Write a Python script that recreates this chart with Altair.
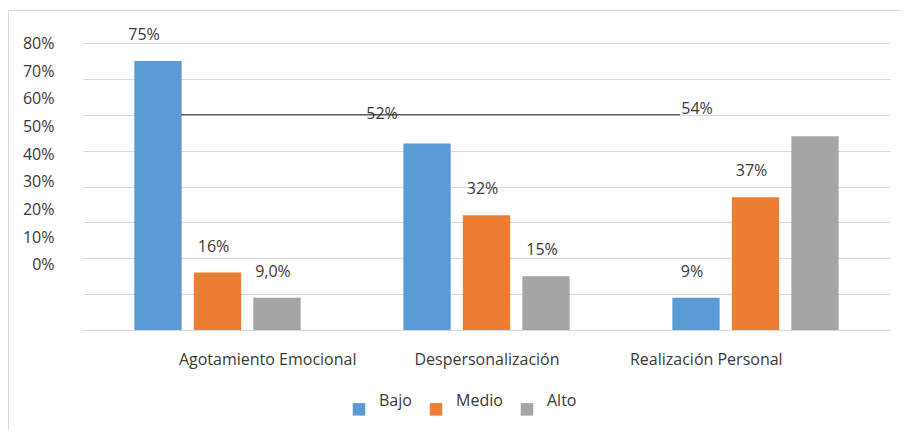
import altair as alt
import pandas as pd

# ---- data ----
categories = ["Agotamiento Emocional", "Despersonalización", "Realización Personal"]
series = ["Bajo", "Medio", "Alto"]
bajo = [75, 52, 9]
medio = [16, 32, 37]
alto = [9, 15, 54]
bajo_labels = ["75%", "52%", "9%"]
medio_labels = ["16%", "32%", "37%"]
alto_labels = ["9,0%", "15%", "54%"]
y_ticks = [0, 10, 20, 30, 40, 50, 60, 70, 80]
colors = ["#5B9BD5", "#ED7D31", "#A5A5A5"]
# black annotation line (value level, extent in category units)
line_y = [60]
line_start = [0.365]
line_end = [2.22]

rows = []
for s, vals, labs in zip(series, [bajo, medio, alto], [bajo_labels, medio_labels, alto_labels]):
    for c, v, l in zip(categories, vals, labs):
        rows.append({"cat": c, "serie": s, "valor": v, "etiqueta": l})
df = pd.DataFrame(rows)

W, H = 807, 287
FONT = "Open Sans"
TXT = "#3a3a3a"
FS = 16

x_enc = alt.X("cat:N", sort=categories,
              scale=alt.Scale(paddingInner=0, paddingOuter=0), axis=None)
xo_enc = alt.XOffset("serie:N", sort=series,
                     scale=alt.Scale(paddingInner=0.205, paddingOuter=0.863))
y_enc = alt.Y("valor:Q", scale=alt.Scale(domain=[0, 80], nice=False, zero=True),
              axis=alt.Axis(orient="right", values=y_ticks, grid=True, labels=False,
                            ticks=False, domain=False, title=None,
                            gridColor="#D9D9D9", gridWidth=1))

bars = alt.Chart(df).mark_bar().encode(
    x=x_enc, xOffset=xo_enc, y=y_enc,
    color=alt.Color("serie:N", sort=series,
                    scale=alt.Scale(domain=series, range=colors),
                    legend=alt.Legend(orient="none", legendX=268, legendY=358,
                                      direction="horizontal", title=None,
                                      symbolType="square", symbolSize=156,
                                      symbolStrokeWidth=0, labelOffset=12,
                                      columnPadding=16, labelBaseline="bottom",
                                      padding=0, labelFont=FONT, labelFontSize=FS,
                                      labelColor=TXT)),
)

def lbl(dx, dy):
    return alt.Chart(df).mark_text(font=FONT, fontSize=FS, color=TXT,
                                   baseline="alphabetic", dx=dx, dy=dy)

enc = dict(x=x_enc, xOffset=xo_enc, y=y_enc, text="etiqueta:N")
t_norm = lbl(-4, -21).encode(**enc).transform_filter(
    "indexof(['75%','52%','54%'], datum.etiqueta) < 0")
t75 = lbl(-14, -21).encode(**enc).transform_filter("datum.etiqueta == '75%'")
t52 = lbl(-45, -24).encode(**enc).transform_filter("datum.etiqueta == '52%'")
t54 = lbl(-118, -22).encode(**enc).transform_filter("datum.etiqueta == '54%'")

inner = alt.layer(bars, t_norm, t75, t52, t54)

rule_df = pd.DataFrame({"x1": line_start, "x2": line_end, "y": line_y})
rule = alt.Chart(rule_df).mark_rule(color="#262626", strokeWidth=1).encode(
    x=alt.X("x1:Q", scale=alt.Scale(domain=[0, 3], nice=False, zero=False), axis=None),
    x2="x2:Q",
    y=alt.Y("y:Q", scale=alt.Scale(domain=[0, 80], nice=False), axis=None),
)

ylab = alt.Chart(pd.DataFrame({"t": y_ticks})).mark_point(opacity=0).encode(
    y=alt.Y("t:Q", scale=alt.Scale(domain=[-23.6, 80.2], nice=False, zero=False),
            axis=alt.Axis(orient="left", values=y_ticks, labelExpr="datum.value + '%'",
                          grid=False, ticks=False, domain=False, title=None,
                          labelPadding=29, labelOverlap=False, labelFont=FONT,
                          labelFontSize=FS, labelColor=TXT)),
)

xlab = alt.Chart(pd.DataFrame({"cat": categories})).mark_point(opacity=0).encode(
    x=alt.X("cat:N", sort=categories, scale=alt.Scale(type="point", padding=0.84),
            axis=alt.Axis(orient="bottom", labelAngle=0, ticks=False, domain=False,
                          grid=False, labelPadding=21, title=None, labelFont=FONT,
                          labelFontSize=FS, labelColor=TXT)),
)

frame_src = pd.DataFrame({"k": [0]})
frame_top = alt.Chart(frame_src).mark_rule(color="#D9D9D9", strokeWidth=1).encode(
    x=alt.value(-74.5), x2=alt.value(818), y=alt.value(-32.5))
frame_left = alt.Chart(frame_src).mark_rule(color="#D9D9D9", strokeWidth=1).encode(
    x=alt.value(-74.5), y=alt.value(-32.5), y2=alt.value(387))

chart = alt.layer(inner, rule, ylab, xlab, frame_top, frame_left).resolve_scale(
    x="independent", y="independent"
).properties(
    width=W, height=H,
    padding={"left": 0, "top": 2, "right": 0, "bottom": 0},
).configure(font=FONT, background="white").configure_view(stroke=None)

chart.save("out.html", embed_options={"renderer": "svg", "actions": False})
